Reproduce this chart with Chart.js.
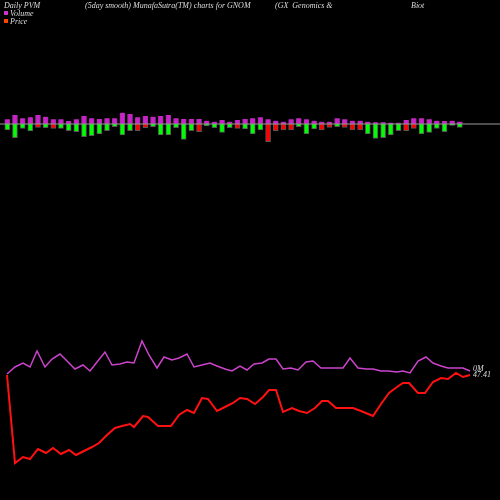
<!DOCTYPE html>
<html lang="en">
<head>
  <meta charset="UTF-8">
  <title>GNOM PVM chart</title>
  <script src="https://cdn.jsdelivr.net/npm/chart.js"></script>
  <style>
    body { margin: 0; background-color: #000000; }
    #wrap { width: 500px; height: 500px; }
  </style>
</head>
<body>
  <div id="wrap"><canvas id="pvmChart"></canvas></div>

  <script>
    // volume bars: height above axis and below axis (image pixels), colour of lower part
    const volUp = [4.7,9,5.7,6.7,9,7.3,4.7,4.7,3,4.7,8,5.7,5,5.7,5.7,11.3,10,6.7,8,7.3,
      8,9,5.7,5,5,5,3.3,2.3,4,2.3,4,5,5.7,6.7,4.7,3.3,2.3,4.7,5.7,4.7,
      3.3,2.3,2.3,5.7,4.7,3.3,3.3,2.3,1.7,1.7,1.3,1.3,4,5.7,5.7,4.7,3.3,3,3.3,2.3];
    const volDown = [6,13.7,4.3,7,3.3,3.7,4.3,4.3,6.7,7.7,12.7,11.7,10,6.7,2.7,11,6.7,6.7,3.7,2.7,
      11,11,3.7,15.3,6.7,7.7,2,3.7,8.3,3.7,4.3,5,10,6,17.7,6.7,6,6,2.7,10,
      5,6,3.3,2.7,3.3,6,6,10,14.3,13.7,11,6.7,6.7,4.3,10,8.3,4.3,7.7,1.3,3.3];
    const downColor = 'GGGGRGRGGGGGGGGGGRRGGGGGGRGGGGRGGGRRRRGGGRRGRRRGGGGGRRGGGGGG';

    // price line (red) and smoothed volume line (magenta), x / y in image pixels
    const priceX = [7,15,23,30,38,46,53,61,69,76,84,92,99,107,115,122,130,134,143,148,158,171,179,187,194,202,208,217,225,233,240,247,255,263,269,276,283,292,299,307,315,322,328,336,343,353,361,373,381,389,397,403,409,418,425,433,441,448,456,463,470];
    const priceY = [375,463,457,459,449,453,448,454,450,455,451,447,443,435,428,426,424,427,416,417,426,426,415,410,413,398,399,411,407,403,398,399,404,397,390,390,412,408,411,413,408,401,401,408,408,408,411,416,404,393,387,383,383,393,393,382,378,379,373,377,375];
    const volLineX = [7,15,23,30,37,45,52,60,68,75,83,90,97,105,112,120,127,134,142,149,157,164,172,179,187,194,202,210,217,225,232,240,247,254,262,269,276,283,291,298,306,313,321,328,336,343,350,358,366,373,381,388,397,403,410,418,426,433,441,448,456,463,470];
    const volLineY = [374,367,363,367,351,367,359,354,362,369,365,371,362,352,365,364,362,363,341,355,368,357,360,358,354,367,365,363,366,369,371,366,370,364,363,359,359,369,368,370,362,361,368,368,368,368,358,368,369,369,371,371,372,371,373,361,357,363,366,368,368,368,371];

    const axisY = 124;
    const barX = volUp.map((v, i) => 7.3 + i * 7.67);

    const upData = volUp.map((v, i) => ({ x: barX[i], y: [axisY - v, axisY] }));
    const downData = volDown.map((v, i) => ({ x: barX[i], y: [axisY, axisY + v] }));
    const downColors = downColor.split('').map(c => c === 'R' ? '#ff0000' : '#00ff00');

    const textPlugin = {
      id: 'texts',
      afterDraw(chart) {
        const c = chart.ctx;
        c.save();
        c.font = 'italic 8px "Liberation Serif", "DejaVu Serif", serif';
        c.fillStyle = '#dddddd';
        c.textBaseline = 'middle';
        c.fillText('Daily PVM', 4, 6);
        c.fillText('(5day smooth) MunafaSutra(TM) charts for GNOM', 85, 6);
        c.fillText('(GX  Genomics &', 275, 6);
        c.fillText('Biot', 411, 6);
        c.fillText('Volume', 10, 14);
        c.fillText('Price', 10, 22);
        c.fillStyle = '#cc33cc'; c.fillRect(4, 11, 4, 4);
        c.fillStyle = '#ff4400'; c.fillRect(4, 19, 4, 4);
        c.fillStyle = '#dddddd';
        c.fillText('0M', 473, 369);
        c.fillText('47.41', 473, 375);
        c.restore();
      }
    };

    new Chart(document.getElementById('pvmChart'), {
      type: 'bar',
      data: {
        datasets: [
          { type: 'line', data: [{ x: 0, y: axisY }, { x: 500, y: axisY }],
            borderColor: '#999999', borderWidth: 1, pointRadius: 0 },
          { data: upData, backgroundColor: '#cc22cc', borderColor: '#993399', borderWidth: 1,
            barThickness: 5, grouped: false },
          { data: downData, backgroundColor: downColors, borderColor: '#555555', borderWidth: 1,
            barThickness: 5, grouped: false },
          { type: 'line', data: volLineX.map((x, i) => ({ x, y: volLineY[i] })),
            borderColor: '#cc44cc', borderWidth: 1.5, pointRadius: 0, tension: 0 },
          { type: 'line', data: priceX.map((x, i) => ({ x, y: priceY[i] })),
            borderColor: '#ff1111', borderWidth: 2, pointRadius: 0, tension: 0 }
        ]
      },
      options: {
        animation: false,
        responsive: true,
        maintainAspectRatio: false,
        layout: { padding: 0 },
        plugins: { legend: { display: false }, tooltip: { enabled: false } },
        scales: {
          x: { type: 'linear', min: 0, max: 500, offset: false, display: false },
          y: { min: 0, max: 500, reverse: true, display: false }
        }
      },
      plugins: [textPlugin]
    });
  </script>
</body>
</html>
